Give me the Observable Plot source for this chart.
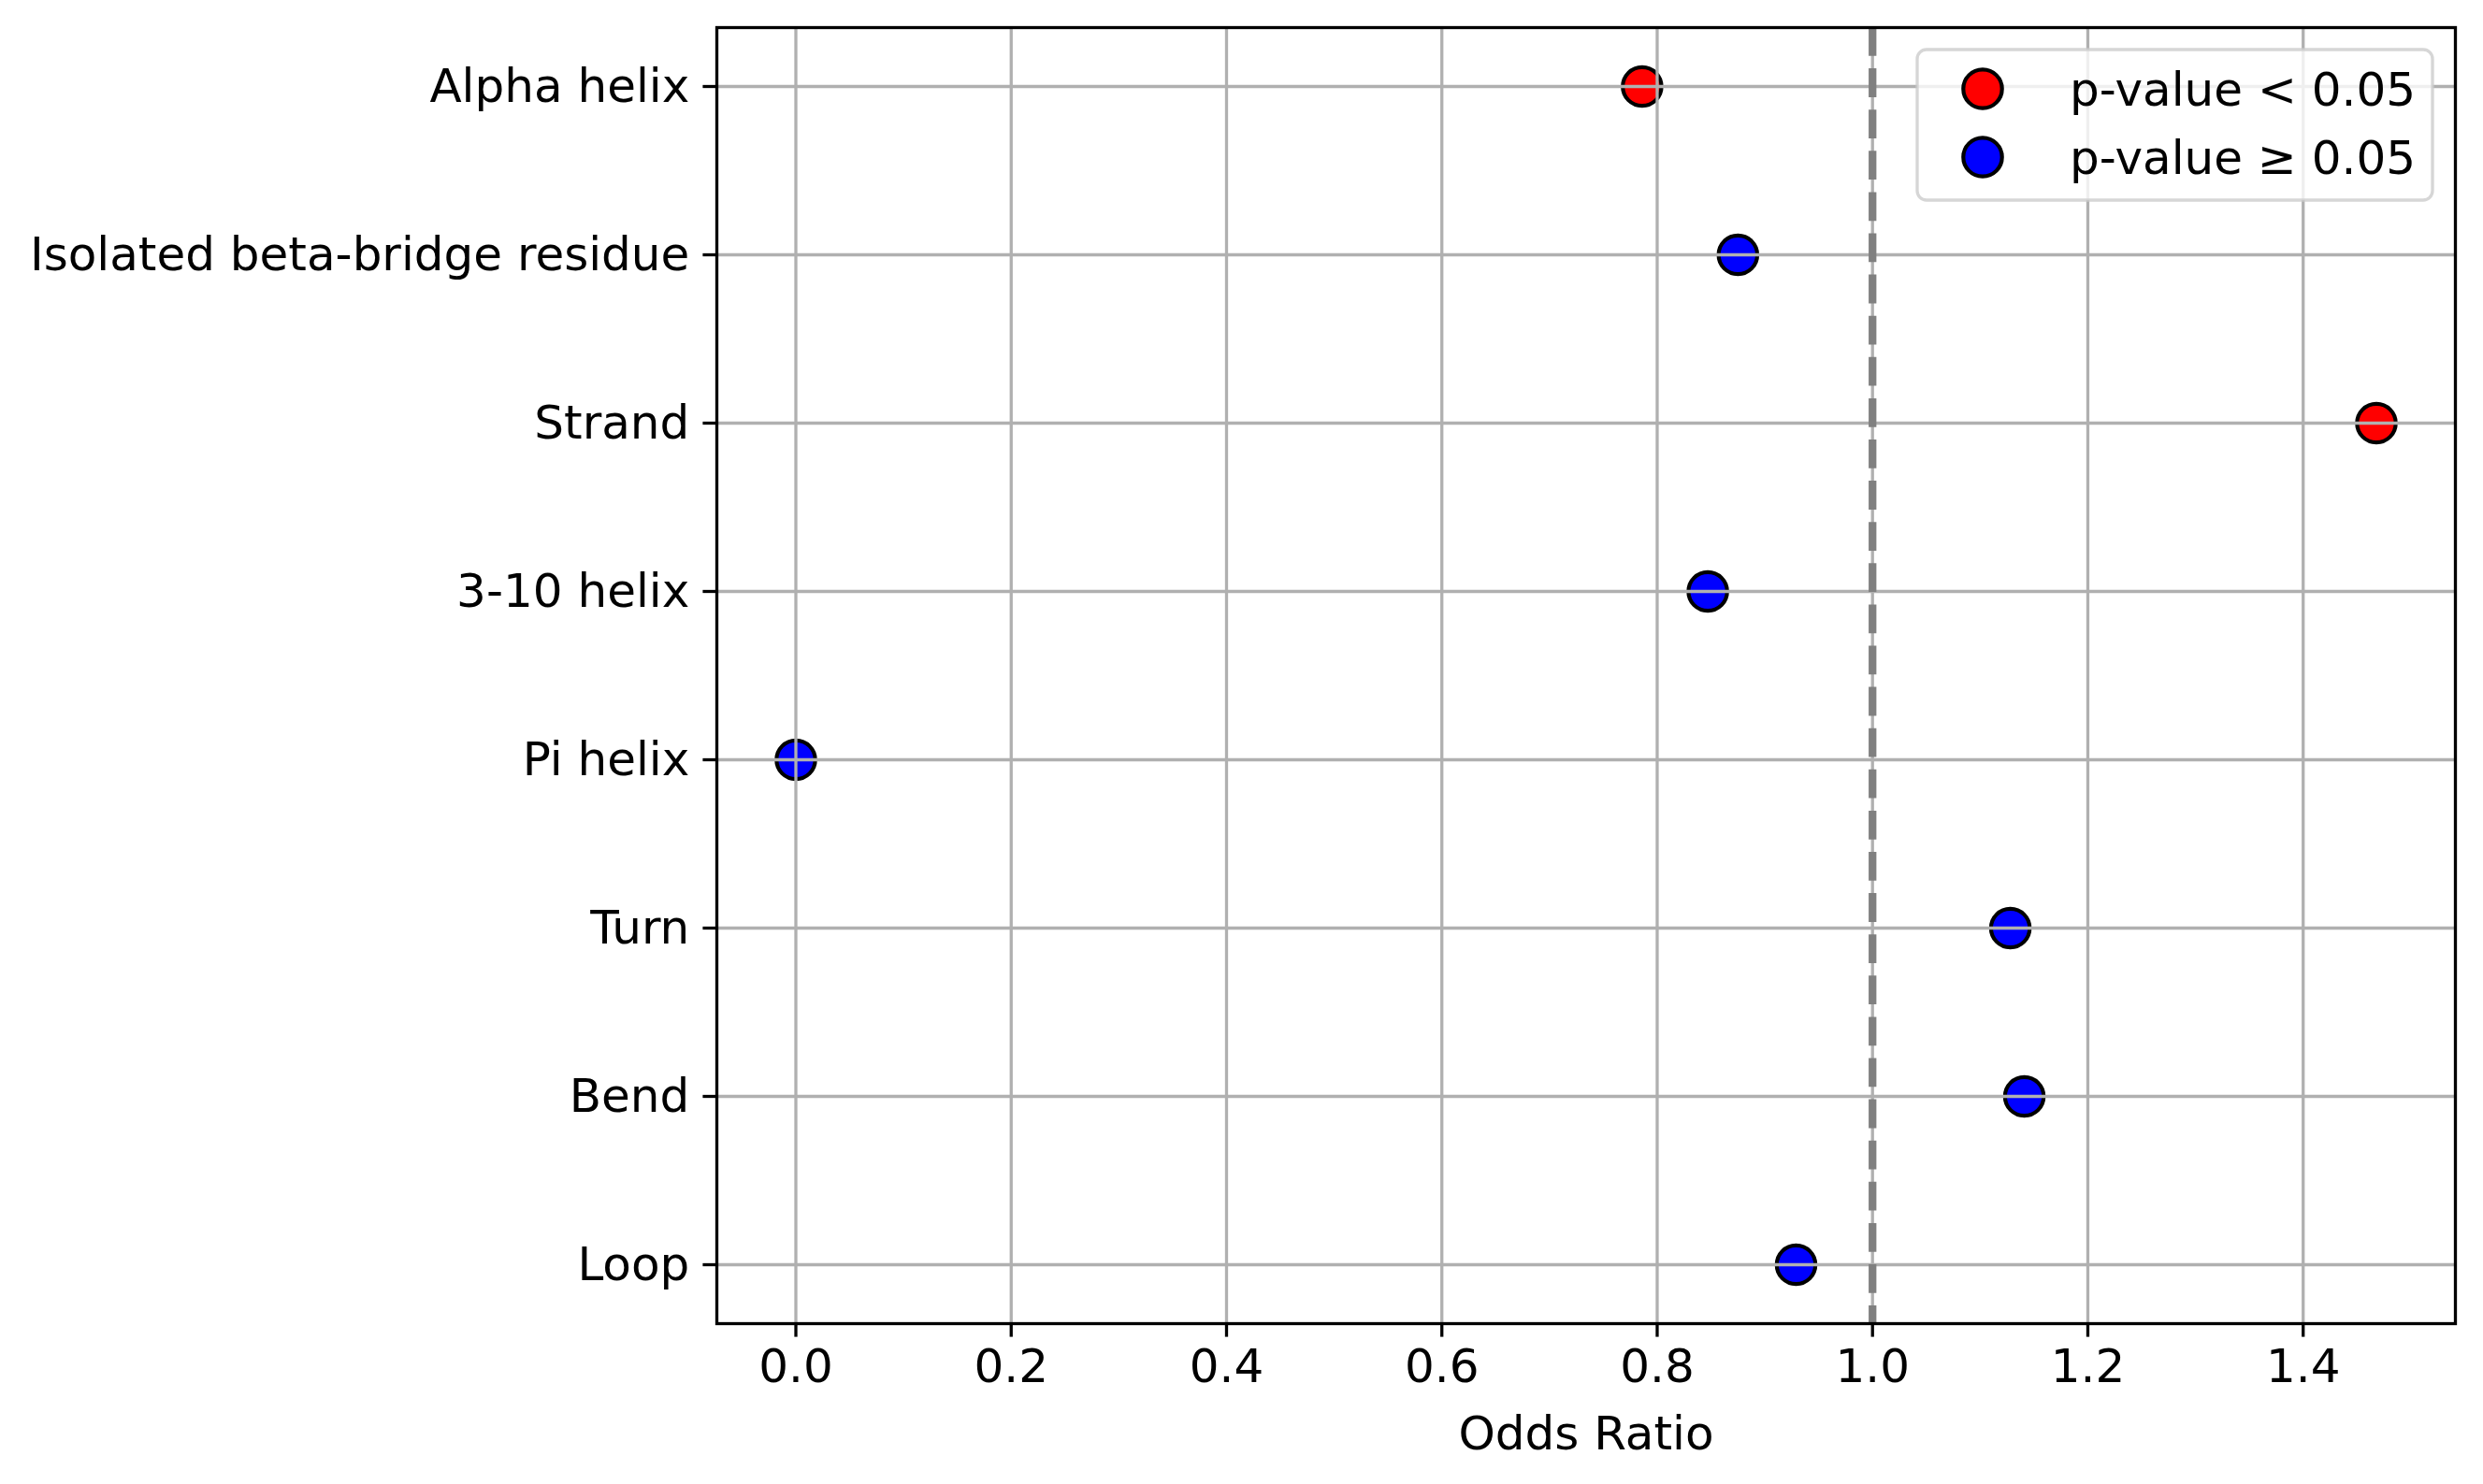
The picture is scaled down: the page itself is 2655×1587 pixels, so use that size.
<!DOCTYPE html>
<html>
<head>
<meta charset="utf-8">
<script src="https://cdn.jsdelivr.net/npm/d3@7"></script>
<script src="https://cdn.jsdelivr.net/npm/@observablehq/plot@0.6"></script>
<style>
  html, body { margin: 0; padding: 0; background: white; }
  #chart svg { display: block; }
</style>
</head>
<body>
<div id="chart"></div>
<script>
const categories = ["Alpha helix", "Isolated beta-bridge residue", "Strand", "3-10 helix", "Pi helix", "Turn", "Bend", "Loop"];
const oddsRatios = [0.786, 0.875, 1.468, 0.847, 0.0, 1.128, 1.141, 0.929];
const significant = [true, false, true, false, false, false, false, false];
const xTicks = [0, 0.2, 0.4, 0.6, 0.8, 1.0, 1.2, 1.4];
const legendLabels = ["p-value < 0.05", "p-value \u2265 0.05"];
const legendColors = ["#ff0000", "#0000ff"];

const data = categories.map((c, i) => ({category: c, or: oddsRatios[i], sig: significant[i]}));

const W = 2655, H = 1587;
const mL = 766, mR = 30, mT = 29, mB = 172;
const fontFamily = "DejaVu Sans";

const xmin = d3.min(oddsRatios), xmax = d3.max(oddsRatios);
const pad = (xmax - xmin) * 0.05;

const plot = Plot.plot({
  width: W,
  height: H,
  marginLeft: mL,
  marginRight: mR,
  marginTop: mT,
  marginBottom: mB,
  style: {fontFamily: fontFamily, fontSize: "50px", color: "black", background: "white"},
  x: {domain: [xmin - pad, xmax + pad], ticks: xTicks, tickFormat: d3.format(".1f")},
  y: {type: "point", domain: categories, padding: 0.35},
  marks: [
    Plot.dot(data, {
      x: "or", y: "category", r: 20.7,
      fill: d => d.sig ? legendColors[0] : legendColors[1],
      stroke: "black", strokeWidth: 4.2
    }),
    Plot.gridX(xTicks, {stroke: "#b0b0b0", strokeOpacity: 1, strokeWidth: 3.3}),
    Plot.gridY(categories, {stroke: "#b0b0b0", strokeOpacity: 1, strokeWidth: 3.3}),
    Plot.ruleX([1], {stroke: "#808080", strokeWidth: 8.3, strokeDasharray: "30.8,13.3"}),
    Plot.frame({stroke: "black", strokeWidth: 3.3}),
    Plot.axisX(xTicks, {tickSize: 14.6, tickPadding: 12, strokeWidth: 3.3, label: null, tickFormat: d3.format(".1f"), fontSize: 50}),
    Plot.axisY(categories, {tickSize: 14.6, tickPadding: 14.6, strokeWidth: 3.3, label: null, fontSize: 50}),
    Plot.text(["Odds Ratio"], {frameAnchor: "bottom", dy: 118, lineAnchor: "middle", fontSize: 50, fill: "black"})
  ]
});

document.getElementById("chart").appendChild(plot);

// Legend (upper right, inside axes)
const svg = d3.select(plot);
const lg = svg.append("g").attr("font-family", fontFamily).attr("font-size", 50).attr("text-anchor", "start");
lg.append("rect")
  .attr("x", 2050).attr("y", 53).attr("width", 551).attr("height", 161)
  .attr("rx", 10).attr("ry", 10)
  .attr("fill", "white").attr("fill-opacity", 0.8)
  .attr("stroke", "#cccccc").attr("stroke-opacity", 0.8).attr("stroke-width", 3.3);
const rowY = [95, 168];
legendLabels.forEach((lab, i) => {
  lg.append("circle").attr("cx", 2120).attr("cy", rowY[i]).attr("r", 20.7)
    .attr("fill", legendColors[i]).attr("stroke", "black").attr("stroke-width", 4.2);
  lg.append("text").attr("x", 2213).attr("y", rowY[i]).attr("dy", "0.35em")
    .attr("text-anchor", "start").attr("fill", "black").text(lab);
});
</script>
</body>
</html>
